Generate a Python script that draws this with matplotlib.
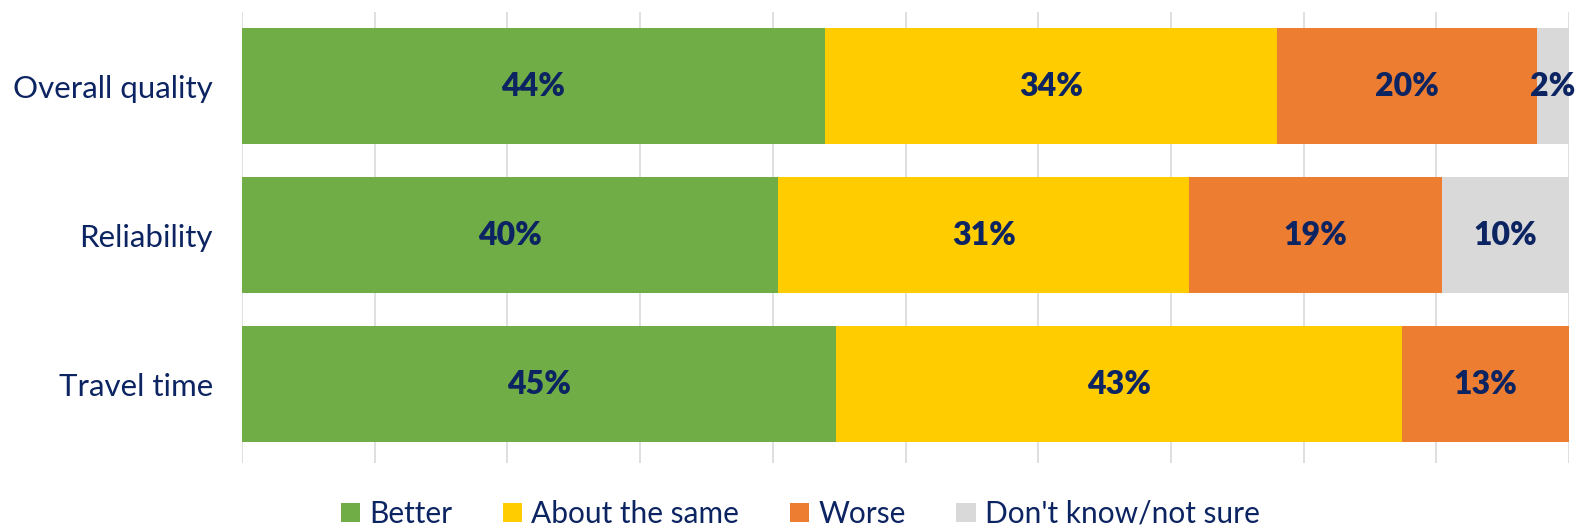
import matplotlib.pyplot as plt
import numpy as np
from matplotlib.patches import Patch

categories = ['Overall quality', 'Reliability', 'Travel time']
series = ['Better', 'About the same', 'Worse', "Don't know/not sure"]
better = [43.9, 40.4, 44.8]
same = [34.1, 31.0, 42.6]
worse = [19.6, 19.0, 12.6]
dont_know = [2.4, 9.6, 0.0]

colors = ['#70AD47', '#FFCC00', '#ED7D31', '#D9D9D9']
navy = '#0C2461'


def main():
    plt.rcParams['font.family'] = ['Lato', 'DejaVu Sans']
    fig = plt.figure(figsize=(15.78, 5.29), dpi=100)
    ax = fig.add_axes([242 / 1578, 1 - 463 / 529, 1327 / 1578, 451 / 529])

    y = np.arange(len(categories))
    left = np.zeros(len(categories))
    for vals, col in zip([better, same, worse, dont_know], colors):
        vals = np.array(vals)
        ax.barh(y, vals, left=left, height=0.78, color=col, zorder=3)
        for yi, v, l in zip(y, vals, left):
            if v > 0:
                ax.text(l + v / 2, yi, f'{round(v):d}%', ha='center', va='center',
                        fontsize=23, fontweight='heavy', color=navy, zorder=4)
        left += vals

    ax.set_xlim(0, 100)
    ax.set_ylim(2.53, -0.5)
    ax.set_xticks(np.arange(0, 101, 10))
    ax.set_xticklabels([])
    ax.tick_params(axis='x', length=0)
    ax.tick_params(axis='y', length=0, pad=21, labelsize=22.5, labelcolor=navy)
    ax.set_yticks(y)
    ax.set_yticklabels(categories)
    ax.grid(axis='x', color='#D9D9D9', linewidth=1.2, zorder=0)
    for s in ax.spines.values():
        s.set_visible(False)

    handles = [Patch(facecolor=c, edgecolor='none') for c in colors]
    leg = fig.legend(handles, series, loc='center', bbox_to_anchor=(0.507, 1 - 514 / 529),
                     ncol=4, frameon=False, fontsize=21.5, handlelength=0.65, handleheight=0.65,
                     handletextpad=0.3, columnspacing=1.7)
    for t in leg.get_texts():
        t.set_color(navy)

    fig.savefig('out.png', dpi=100)


if __name__ == '__main__':
    main()
